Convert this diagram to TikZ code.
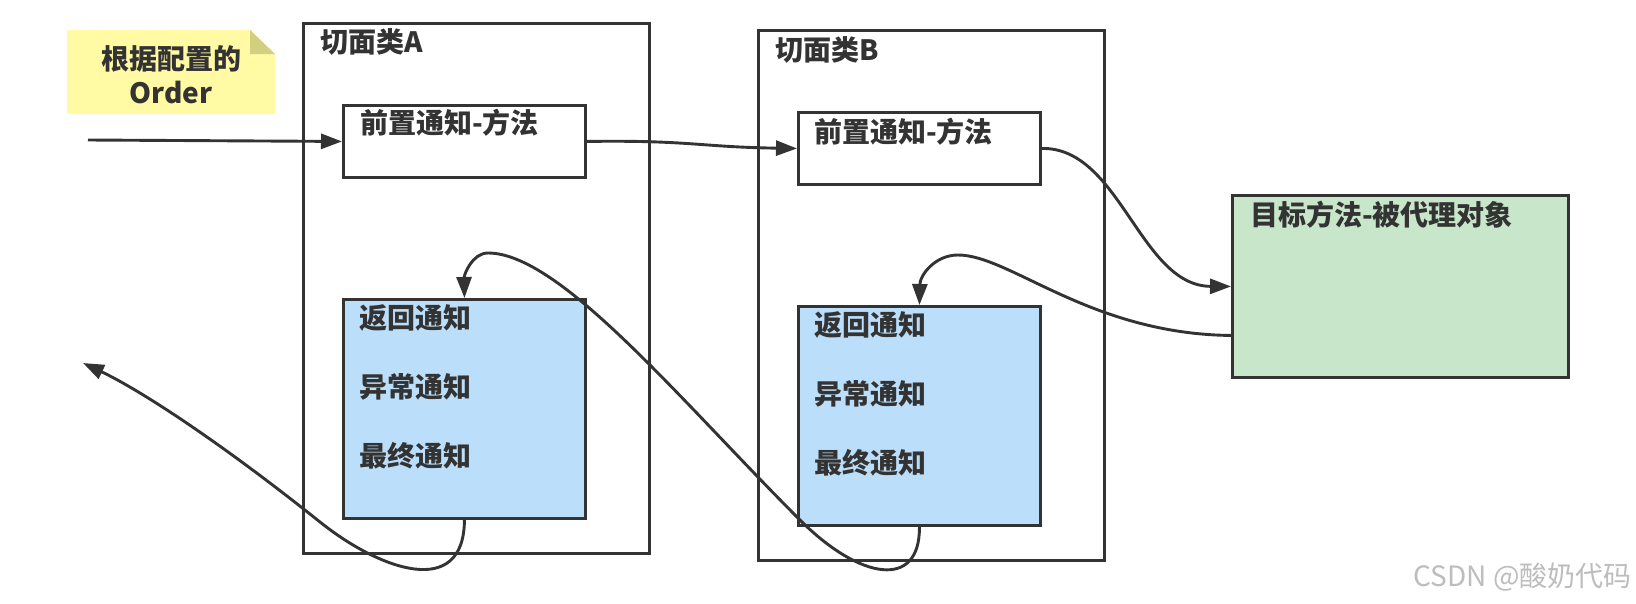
\documentclass[tikz,border=0pt]{standalone}
\usepackage{fontspec}
\setmainfont{Noto Sans CJK SC}
\usetikzlibrary{arrows.meta,calc}
\definecolor{ln}{HTML}{333333}
\definecolor{notefill}{HTML}{FFFAA3}
\definecolor{notefold}{HTML}{D3CF7E}
\definecolor{bluefill}{HTML}{BBDEFA}
\definecolor{greenfill}{HTML}{C8E6CA}
\definecolor{wmgray}{HTML}{BDBDBD}
\begin{document}
\begin{tikzpicture}[x=1pt,y=-1pt,
  aspbox/.style={draw=ln,line width=2.9pt,anchor=north west,inner sep=0pt},
  advbox/.style={draw=ln,line width=2.9pt,fill=white,anchor=north west,inner sep=0pt,minimum width=242pt,minimum height=72pt},
  bluebox/.style={draw=ln,line width=2.9pt,fill=bluefill,anchor=north west,inner sep=0pt,minimum width=242pt,minimum height=219pt},
  greenbox/.style={draw=ln,line width=2.9pt,fill=greenfill,anchor=north west,inner sep=0pt,minimum width=336pt,minimum height=182pt},
  lbl/.style={anchor=west,inner sep=0pt,text=ln,font=\fontsize{28}{28}\selectfont\bfseries},
  conn/.style={draw=ln,line width=2.9pt,-{Triangle[length=21pt,width=15pt]}}]
\useasboundingbox (0,0) rectangle (1636,603);
\fill[white] (0,0) rectangle (1636,603);

% note
\fill[notefill] (67,30) -- (250,30) -- (275,54) -- (275,114) -- (67,114) -- cycle;
\fill[notefold] (250,30) -- (250,54) -- (275,54) -- cycle;
\node[align=center,inner sep=0pt,text=ln,font=\fontsize{28}{34}\selectfont\bfseries] (noteT) at (171,75) {根据配置的\\Order};

% aspect boxes
\node[aspbox,minimum width=346pt,minimum height=530pt] (boxA) at (302,22) {};
\node[aspbox,minimum width=346pt,minimum height=530pt] (boxB) at (757,29) {};
\node[lbl] (titleA) at (320,42) {切面类A};
\node[lbl] (titleB) at (775,50) {切面类B};

% before advice
\node[advbox] (preA) at (342,104) {};
\node[advbox] (preB) at (797,111) {};
\node[lbl] (preAT) at (360,123) {前置通知-方法};
\node[lbl] (preBT) at (814,132) {前置通知-方法};

% after advices
\node[bluebox] (bA) at (342,298) {};
\node[bluebox] (bB) at (797,305) {};
\node[lbl] (bA1) at (359,318) {返回通知};
\node[lbl] (bA2) at (359,387) {异常通知};
\node[lbl] (bA3) at (359,456) {最终通知};
\node[lbl] (bB1) at (814,325) {返回通知};
\node[lbl] (bB2) at (814,394) {异常通知};
\node[lbl] (bB3) at (814,463) {最终通知};

% target
\node[greenbox] (tgt) at (1231,194) {};
\node[lbl] (tgtT) at (1250,215) {目标方法-被代理对象};

% connectors
\coordinate (inS) at (88,140);
\coordinate (outE) at (83,363);
\draw[conn] (inS) -- (preA.west);
\draw[conn] (preA.east) .. controls (690,140) and (700,147) .. (preB.west);
\draw[conn] (preB.east) .. controls (1120,147) and (1140,286) .. (tgt.west);
\draw[conn] ([yshift=-49pt]tgt.west) .. controls (1090,334) and (1010,255) .. (958,255)
   .. controls (935,255) and (920,275) .. (bB.north);
\draw[conn] (bB.south) .. controls (920,590) and (860,580) .. (800,520)
   .. controls (680,400) and (560,253) .. (488,253)
   .. controls (472,253) and (464,275) .. (bA.north);
\draw[conn] (bA.south) .. controls (464,600) and (380,570) .. (320,522)
   .. controls (220,442) and (140,390) .. (outE);

% watermark
\node[anchor=east,inner sep=0pt,text=wmgray,font=\fontsize{28}{28}\selectfont] (wm) at (1632,577) {CSDN @酸奶代码};
\end{tikzpicture}
\end{document}
